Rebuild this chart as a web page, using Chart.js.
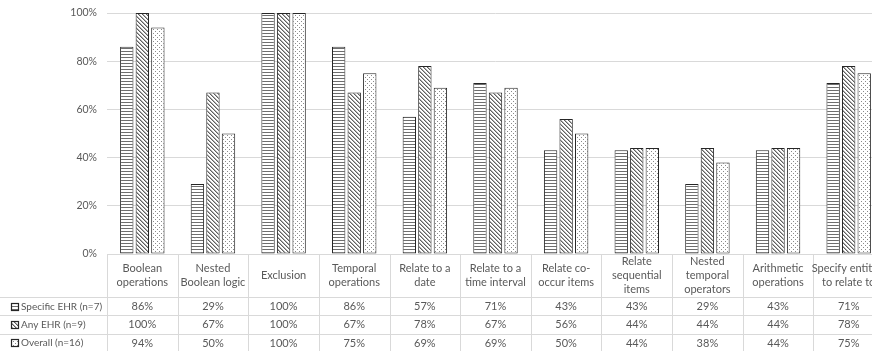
<!DOCTYPE html>
<html>
<head>
<meta charset="utf-8">
<script src="https://cdn.jsdelivr.net/npm/chart.js@4.4.1/dist/chart.umd.min.js"></script>
<style>
  html, body { margin: 0; padding: 0; background: #fff; overflow: hidden; }
  #wrap { position: absolute; left: 0; top: 0; width: 890px; height: 351px; }
</style>
</head>
<body>
<div id="wrap"><canvas id="c" width="890" height="351"></canvas></div>
<script>
// Query capability categories (multi-line labels for the data table header)
const categories = [
  ["Boolean", "operations"],
  ["Nested", "Boolean logic"],
  ["Exclusion"],
  ["Temporal", "operations"],
  ["Relate to a", "date"],
  ["Relate to a", "time interval"],
  ["Relate co-", "occur items"],
  ["Relate", "sequential", "items"],
  ["Nested", "temporal", "operators"],
  ["Arithmetic", "operations"],
  ["Specify entities", "to relate to"]
];

const seriesNames = ["Specific EHR (n=7)", "Any EHR (n=9)", "Overall (n=16)"];

// Percent of systems supporting each capability
const specificEHR = [86, 29, 100, 86, 57, 71, 43, 43, 29, 43, 71];
const anyEHR      = [100, 67, 100, 67, 78, 67, 56, 44, 44, 44, 78];
const overall     = [94, 50, 100, 75, 69, 69, 50, 44, 38, 44, 75];

const yTicks = [0, 20, 40, 60, 80, 100];

const TEXT = '#595959';
const LINE = '#d9d9d9';
const FONT = 'Lato, "Open Sans", sans-serif';

// Monochrome fill patterns for the three series
function makePattern(kind) {
  const c = document.createElement('canvas');
  const ctx = c.getContext('2d');
  if (kind === 'hlines') {
    c.width = 4; c.height = 3;
    ctx.fillStyle = '#fff'; ctx.fillRect(0, 0, 4, 3);
    ctx.fillStyle = '#6e6e6e'; ctx.fillRect(0, 0, 4, 1);
  } else if (kind === 'diag') {
    c.width = 4; c.height = 4;
    ctx.fillStyle = '#fff'; ctx.fillRect(0, 0, 4, 4);
    for (let i = 0; i < 4; i++) {
      ctx.fillStyle = '#606060';
      ctx.fillRect(i, i, 1, 1);
      ctx.fillStyle = '#b0b0b0';
      ctx.fillRect((i + 1) % 4, i, 1, 1);
    }
  } else {
    c.width = 4; c.height = 4;
    ctx.fillStyle = '#fff'; ctx.fillRect(0, 0, 4, 4);
    ctx.fillStyle = '#8a8a8a';
    ctx.fillRect(1, 1, 1, 1);
    ctx.fillRect(3, 3, 1, 1);
  }
  return document.createElement('canvas').getContext('2d').createPattern(c, 'repeat');
}

const fills = [makePattern('hlines'), makePattern('diag'), makePattern('dots')];
const seriesValues = [specificEHR, anyEHR, overall];

// Data table drawn beneath the plot, aligned to the category scale
const dataTable = {
  id: 'dataTable',
  afterDraw(chart) {
    const ctx = chart.ctx;
    const xs = chart.scales.x;
    const area = chart.chartArea;
    const n = categories.length;
    const catW = (area.right - area.left) / n;
    const top = Math.round(area.bottom);
    const headerH = 43;
    const rowH = 18.3;
    const bottom = chart.height;

    ctx.save();
    ctx.strokeStyle = LINE;
    ctx.lineWidth = 1;
    ctx.beginPath();
    // top border of the table
    ctx.moveTo(area.left, top + 0.5); ctx.lineTo(area.right, top + 0.5);
    // column separators
    for (let i = 0; i <= n; i++) {
      const x = Math.round(area.left + i * catW) + 0.5;
      ctx.moveTo(x, top); ctx.lineTo(x, bottom);
    }
    // row separators
    for (let r = 0; r < 3; r++) {
      const y = Math.round(top + headerH + r * rowH) + 0.5;
      ctx.moveTo(0, y); ctx.lineTo(area.right, y);
    }
    ctx.stroke();

    ctx.fillStyle = TEXT;
    ctx.font = '11px ' + FONT;
    ctx.textAlign = 'center';
    ctx.textBaseline = 'middle';
    const lh = 13.6;
    const midH = top + headerH / 2;
    categories.forEach((lines, i) => {
      const cx = xs.getPixelForValue(i);
      const y0 = midH - (lines.length - 1) * lh / 2;
      lines.forEach((t, k) => ctx.fillText(t, cx, y0 + k * lh));
      seriesValues.forEach((vals, r) => {
        ctx.fillText(vals[i] + '%', cx, top + headerH + r * rowH + rowH / 2 + 0.5);
      });
    });

    // legend keys in the first column
    ctx.textAlign = 'left';
    ctx.font = '10px ' + FONT;
    seriesNames.forEach((name, r) => {
      const cy = top + headerH + r * rowH + rowH / 2 + 0.5;
      const bx = 11.5, by = Math.round(cy - 4) + 0.5;
      ctx.fillStyle = fills[r];
      ctx.fillRect(bx, by, 7, 7);
      ctx.strokeStyle = '#262626';
      ctx.lineWidth = 1.2;
      ctx.strokeRect(bx, by, 7, 7);
      ctx.fillStyle = TEXT;
      ctx.fillText(name, 21, cy);
    });
    ctx.restore();
  }
};

new Chart(document.getElementById('c'), {
  type: 'bar',
  data: {
    labels: categories,
    datasets: seriesNames.map((name, k) => ({
      label: name,
      data: seriesValues[k],
      backgroundColor: fills[k],
      borderColor: '#262626',
      borderWidth: 1,
      borderSkipped: false,
      categoryPercentage: 0.66,
      barPercentage: 0.86
    }))
  },
  options: {
    responsive: false,
    devicePixelRatio: 1,
    animation: false,
    layout: { padding: { top: 13, right: 6, left: 0, bottom: 0 } },
    plugins: { legend: { display: false }, tooltip: { enabled: false } },
    scales: {
      x: {
        ticks: { display: false },
        grid: { display: false, drawTicks: false },
        border: { display: false },
        afterFit(s) { s.height = 97; s.paddingLeft = 0; s.paddingRight = 0; }
      },
      y: {
        min: 0,
        max: 100,
        afterBuildTicks(s) { s.ticks = yTicks.map(v => ({ value: v })); },
        ticks: {
          callback: v => v + '%',
          color: TEXT,
          font: { family: FONT, size: 10.5 },
          padding: 10
        },
        grid: { color: LINE, drawTicks: false, lineWidth: 1 },
        border: { display: false },
        afterFit(s) { s.width = 107; s.paddingTop = 0; s.paddingBottom = 0; }
      }
    }
  },
  plugins: [dataTable]
});
</script>
</body>
</html>
